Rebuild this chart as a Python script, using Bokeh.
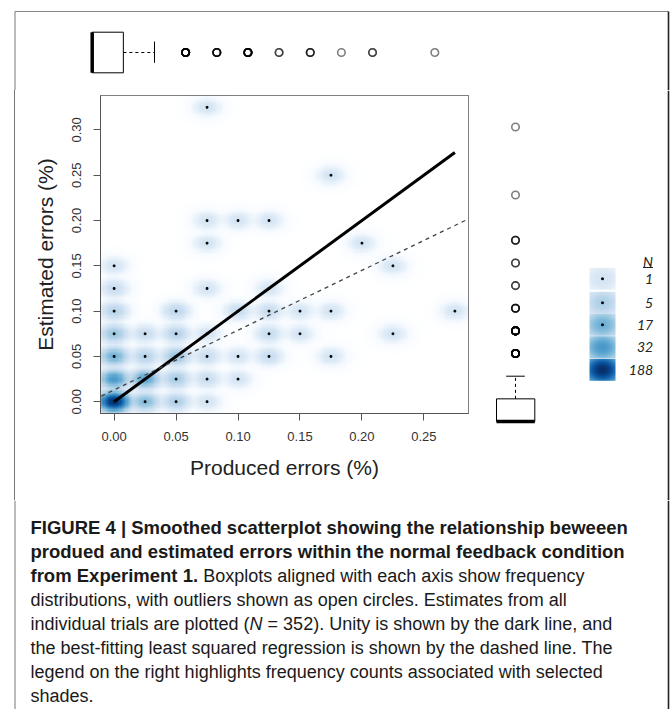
import numpy as np
from bokeh.plotting import figure
from bokeh.models import Range1d, LinearColorMapper, NumeralTickFormatter, FixedTicker, Slope, ColumnDataSource
from bokeh.layouts import column, row
from bokeh.embed import file_html
from bokeh.resources import INLINE
from bokeh.core.properties import value

# ---------------- data ----------------
produced = [0.000, 0.025, 0.050, 0.075,
            0.000, 0.025, 0.050, 0.075, 0.100,
            0.000, 0.025, 0.050, 0.075, 0.100, 0.125, 0.175,
            0.000, 0.025, 0.050, 0.075, 0.125, 0.150, 0.225,
            0.000, 0.050, 0.100, 0.125, 0.150, 0.175, 0.275,
            0.000, 0.075, 0.125,
            0.000, 0.225,
            0.075, 0.200,
            0.075, 0.100, 0.125,
            0.175,
            0.075]
estimated = [0.000, 0.000, 0.000, 0.000,
             0.025, 0.025, 0.025, 0.025, 0.025,
             0.050, 0.050, 0.050, 0.050, 0.050, 0.050, 0.050,
             0.075, 0.075, 0.075, 0.075, 0.075, 0.075, 0.075,
             0.100, 0.100, 0.100, 0.100, 0.100, 0.100, 0.100,
             0.125, 0.125, 0.125,
             0.150, 0.150,
             0.175, 0.175,
             0.200, 0.200, 0.200,
             0.250,
             0.325]
counts = [188, 12, 5, 1,
          32, 24, 6, 2, 1,
          17, 4, 8, 2, 1, 2, 1,
          8, 2, 4, 1, 2, 1, 1,
          4, 3, 2, 2, 1, 1, 1,
          2, 1, 1,
          1, 1,
          1, 1,
          1, 1, 1,
          1,
          1]

x_ticks = [0.00, 0.05, 0.10, 0.15, 0.20, 0.25]
y_ticks = [0.00, 0.05, 0.10, 0.15, 0.20, 0.25, 0.30]
x_title = "Produced errors (%)"
y_title = "Estimated errors (%)"
legend_counts = [1, 5, 17, 32, 188]
legend_labels = ["1", "5", "17", "32", "188"]
reg_slope = 0.66
reg_intercept = 0.013

caption_lines = [
    ("FIGURE 4 | Smoothed scatterplot showing the relationship beweeen", "bold"),
    ("produed and estimated errors within the normal feedback condition", "bold"),
    ("from Experiment 1.", "bold"),
    ("distributions, with outliers shown as open circles. Estimates from all", "normal"),
    ("individual trials are plotted (", "normal"),
    ("the best-fitting least squared regression is shown by the dashed line. The", "normal"),
    ("legend on the right highlights frequency counts associated with selected", "normal"),
    ("shades.", "normal"),
]
caption_extra = [
    (2, "Boxplots aligned with each axis show frequency", "normal"),
    (4, "N", "italic"),
    (4, "= 352). Unity is shown by the dark line, and", "normal"),
]

# ---------------- helpers ----------------
anchors = ["#FFFFFF", "#F7FBFF", "#DEEBF7", "#C6DBEF", "#9ECAE1",
           "#6BAED6", "#4292C6", "#2171B5", "#08519C", "#08306B"]
A = np.array([[int(h[i:i + 2], 16) for i in (1, 3, 5)] for h in anchors], float)
apos = np.linspace(0, 1, len(anchors))
palette = []
for tt in np.linspace(0, 1, 256):
    palette.append("#%02x%02x%02x" % tuple(int(round(np.interp(tt, apos, A[:, k]))) for k in range(3)))

px_ = np.array(produced)
py_ = np.array(estimated)
cn_ = np.array(counts)
xs_all = np.repeat(px_, cn_)
ys_all = np.repeat(py_, cn_)

def box_stats(v):
    q1, med, q3 = np.percentile(v, [25, 50, 75])
    iqr = q3 - q1
    hi = v[v <= q3 + 1.5 * iqr].max()
    outl = v[v > q3 + 1.5 * iqr]
    return q1, med, q3, hi, outl

XR = (-0.011, 0.286)
YR = (-0.013, 0.338)
BW_X = 0.0052
BW_Y = 0.0046

nx, ny = 160, 140
gx = XR[0] + (np.arange(nx) + 0.5) * (XR[1] - XR[0]) / nx
gy = YR[0] + (np.arange(ny) + 0.5) * (YR[1] - YR[0]) / ny
GX, GY = np.meshgrid(gx, gy)
D = np.zeros_like(GX)
for x, y, c in zip(px_, py_, cn_):
    D += c * np.exp(-0.5 * (((GX - x) / BW_X) ** 2 + ((GY - y) / BW_Y) ** 2))
T = D ** 0.25
mapper = LinearColorMapper(palette=palette, low=0, high=float(T.max()))

FONT = value("Liberation Sans")

def bare(fig):
    fig.grid.visible = False
    fig.outline_line_color = None
    fig.background_fill_color = "white"
    fig.border_fill_color = "white"
    return fig

def blank(w, h, xr, yr):
    return bare(figure(width=w, height=h, x_range=xr, y_range=yr, min_border=0,
                       x_axis_location=None, y_axis_location=None,
                       output_backend="svg", toolbar_location=None))

TOP_H = 90
MID_H = 410
CAP_H = 709 - TOP_H - MID_H
LEFT_OFF = 15          # the frame line sits at x = 14..15
RIGHT_W = 191
MAIN_W = 671 - LEFT_OFF - RIGHT_W

# ---------------- top boxplot ----------------
top = blank(671, TOP_H, Range1d(0, 671), Range1d(TOP_H, 0))
top.extra_x_ranges = {"prod": Range1d(-91.7 / 1246, (671 - 91.7) / 1246)}
q1, med, q3, hi, outl = box_stats(xs_all)
top.quad(left=q1, right=q3, bottom=31.7, top=72.3, x_range_name="prod",
         fill_color="white", line_color="black", line_width=1)
top.segment(x0=med, y0=31.7, x1=med, y1=72.3, x_range_name="prod", line_color="black", line_width=3.5)
top.segment(x0=q3, y0=52, x1=hi, y1=52, x_range_name="prod", line_color="black", line_width=1, line_dash="3 3")
top.segment(x0=hi, y0=41, x1=hi, y1=62.3, x_range_name="prod", line_color="black", line_width=1)
top.scatter(x=outl, y=np.full(len(outl), 52.0), x_range_name="prod", marker="circle", size=7.5,
            fill_color=None, line_color="black", line_alpha=0.5, line_width=1.6)
top.segment(x0=[14.5, 668, 14.5], y0=[11, 11, 11], x1=[668, 668, 14.5], y1=[11, TOP_H, TOP_H],
            line_color=["#888888", "#222222", "#777777"], line_width=[1, 1.6, 1])

# ---------------- main smoothed scatterplot ----------------
p = figure(width=MAIN_W, height=MID_H, x_range=Range1d(*XR), y_range=Range1d(*YR),
           min_border_left=100 - LEFT_OFF, min_border_right=MAIN_W - (100 - LEFT_OFF) - 368,
           min_border_top=5, min_border_bottom=MID_H - 5 - 318,
           output_backend="svg", toolbar_location=None)
p.background_fill_color = "white"
p.border_fill_color = "white"
p.grid.visible = False
p.outline_line_color = "#555555"
p.outline_line_width = 1
p.image(image=[T], x=XR[0], y=YR[0], dw=XR[1] - XR[0], dh=YR[1] - YR[0], color_mapper=mapper)
sparse = cn_ <= 17
p.scatter(x=px_[sparse], y=py_[sparse], marker="square", size=1.7, color="black")
p.line(x=[0, px_.max()], y=[0, px_.max()], line_color="black", line_width=3)
p.add_layout(Slope(gradient=reg_slope, y_intercept=reg_intercept, line_color="#444444",
                   line_width=1.3, line_dash="4 4"))

p.xaxis.ticker = FixedTicker(ticks=x_ticks)
p.yaxis.ticker = FixedTicker(ticks=y_ticks)
p.xaxis.formatter = NumeralTickFormatter(format="0.00")
p.yaxis.formatter = NumeralTickFormatter(format="0.00")
p.xaxis.axis_label = x_title
p.yaxis.axis_label = y_title
p.yaxis.major_label_orientation = "vertical"
for ax in (p.xaxis[0], p.yaxis[0]):
    ax.axis_line_color = "#555555"
    ax.major_tick_line_color = "#555555"
    ax.major_tick_out = 7
    ax.major_tick_in = 0
    ax.minor_tick_line_color = None
    ax.major_label_text_font = "Liberation Sans"
    ax.major_label_text_font_size = "13px"
    ax.major_label_text_color = "#333333"
    ax.axis_label_text_font = "Liberation Sans"
    ax.axis_label_text_font_size = "21px"
    ax.axis_label_text_font_style = "normal"
    ax.axis_label_text_color = "#222222"
p.xaxis.major_label_standoff = 11
p.yaxis.major_label_standoff = 12
p.xaxis.axis_label_standoff = 12
p.yaxis.axis_label_standoff = 13

# ---------------- right boxplot + legend ----------------
r = blank(RIGHT_W, MID_H, Range1d(0, RIGHT_W), Range1d(MID_H, 0))
r.extra_y_ranges = {"est": Range1d(-(MID_H - 331) / 906, 331 / 906)}
q1, med, q3, hi, outl = box_stats(ys_all)
r.quad(left=16, right=54.3, bottom=q1, top=q3, y_range_name="est",
       fill_color="white", line_color="black", line_width=1)
r.segment(x0=16, y0=med, x1=54.3, y1=med, y_range_name="est", line_color="black", line_width=3.5)
r.segment(x0=35, y0=q3, x1=35, y1=hi, y_range_name="est", line_color="black", line_width=1, line_dash="3 3")
r.segment(x0=25.7, y0=hi, x1=44.3, y1=hi, y_range_name="est", line_color="black", line_width=1)
r.scatter(x=np.full(len(outl), 35.0), y=outl, y_range_name="est", marker="circle", size=7.5,
          fill_color=None, line_color="black", line_alpha=0.5, line_width=1.6)

# legend swatches
sw_w, sw_h = 26, 22
sx = (np.arange(sw_w) + 0.5) - sw_w / 2
sy = (np.arange(sw_h) + 0.5) - sw_h / 2
SX, SY = np.meshgrid(sx, sy)
g = np.exp(-0.5 * ((SX / 9.0) ** 2 + (SY / 7.0) ** 2))
sw_cy = [188.3, 212.3, 234.3, 256.7, 279.3]
for c, cy in zip(legend_counts, sw_cy):
    r.image(image=[(c * g) ** 0.25], x=109, y=cy - sw_h / 2, dw=sw_w, dh=sw_h, color_mapper=mapper)
dot_idx = [i for i, c in enumerate(legend_counts) if c <= 17]
r.scatter(x=[122] * len(dot_idx), y=[sw_cy[i] for i in dot_idx], marker="square", size=1.7, color="black")
r.text(x=[172.7] * len(legend_labels), y=sw_cy, text=legend_labels, text_align="right",
       text_baseline="middle", text_font=value("Lato"), text_font_style="italic",
       text_font_size="14px", text_color="#222222")
r.text(x=[167.5], y=[170.7], text=["N"], text_align="center", text_baseline="middle",
       text_font=value("Lato"), text_font_style="italic", text_font_size="14px", text_color="#222222")
r.segment(x0=162.5, y0=177, x1=172.5, y1=177, line_color="#222222", line_width=1)
r.segment(x0=188, y0=0, x1=188, y1=MID_H, line_color="#222222", line_width=1.6)

# ---------------- caption ----------------
cap = blank(671, CAP_H, Range1d(0, 671), Range1d(CAP_H, 0))
cap.segment(x0=[14.5, 668], y0=[0, 0], x1=[14.5, 668], y1=[CAP_H, CAP_H],
            line_color=["#777777", "#222222"], line_width=[1, 1.6])
X0 = 30
line_y = [527 - TOP_H - MID_H + 24 * i for i in range(len(caption_lines))]
extra_dx = {(2, 0): 172.7, (4, 0): 219.1, (4, 1): 237.1}
cx, cyy, ct, cs, cz = [], [], [], [], []
for i, (txt, sty) in enumerate(caption_lines):
    cx.append(X0); cyy.append(line_y[i]); ct.append(txt); cs.append(sty)
    cz.append("18.5px" if sty == "bold" else "18px")
k_by_line = {}
for (li, txt, sty) in caption_extra:
    k = k_by_line.get(li, 0)
    k_by_line[li] = k + 1
    cx.append(X0 + extra_dx[(li, k)]); cyy.append(line_y[li]); ct.append(txt); cs.append(sty)
    cz.append("18px")
src = ColumnDataSource(dict(x=cx, y=cyy, text=ct, style=cs, size=cz))
cap.text(x="x", y="y", text="text", source=src, text_font=FONT, text_font_style="style",
         text_font_size="size", text_align="left", text_baseline="middle", text_color="#1a1a1a")

middle = row(column(p), column(r), spacing=0, margin=(0, 0, 0, LEFT_OFF - 1),
             styles={"border-left": "1px solid #777777"})
layout = column(top, middle, cap, spacing=0)
open("out.html", "w").write(file_html(layout, INLINE))
